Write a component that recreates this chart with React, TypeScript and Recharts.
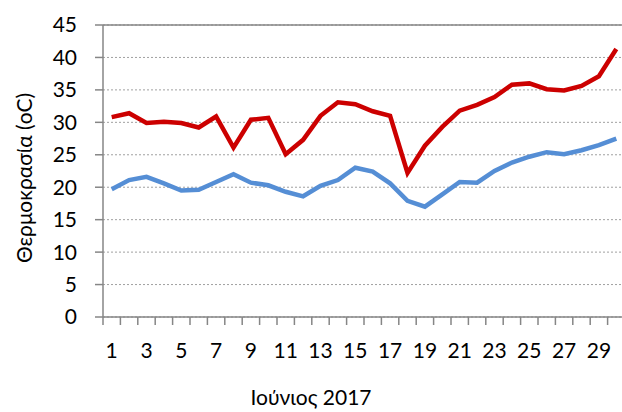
import {
  LineChart,
  Line,
  XAxis,
  YAxis,
  CartesianGrid,
  ReferenceLine,
  Label,
} from "recharts";

const days = [
  1, 2, 3, 4, 5, 6, 7, 8, 9, 10, 11, 12, 13, 14, 15, 16, 17, 18, 19, 20, 21,
  22, 23, 24, 25, 26, 27, 28, 29, 30,
];
const tMax = [
  30.8, 31.4, 29.9, 30.1, 29.9, 29.2, 30.9, 26.1, 30.4, 30.7, 25.1, 27.3, 31.0,
  33.1, 32.8, 31.7, 31.0, 22.2, 26.4, 29.3, 31.8, 32.7, 33.9, 35.8, 36.0, 35.1,
  34.9, 35.6, 37.1, 41.3,
];
const tMin = [
  19.7, 21.1, 21.6, 20.6, 19.5, 19.6, 20.8, 22.0, 20.7, 20.3, 19.3, 18.6, 20.2,
  21.1, 23.0, 22.4, 20.6, 17.9, 17.0, 18.9, 20.8, 20.7, 22.5, 23.8, 24.7, 25.4,
  25.1, 25.7, 26.5, 27.5,
];
const xLabels = [1, 3, 5, 7, 9, 11, 13, 15, 17, 19, 21, 23, 25, 27, 29];
const xBounds = [
  0.5, 1.5, 2.5, 3.5, 4.5, 5.5, 6.5, 7.5, 8.5, 9.5, 10.5, 11.5, 12.5, 13.5,
  14.5, 15.5, 16.5, 17.5, 18.5, 19.5, 20.5, 21.5, 22.5, 23.5, 24.5, 25.5, 26.5,
  27.5, 28.5, 29.5, 30.5,
];
const yTicks = [0, 5, 10, 15, 20, 25, 30, 35, 40, 45];

const data = days.map((d, i) => ({ day: d, max: tMax[i], min: tMin[i] }));

const font = "Lato, 'Open Sans', sans-serif";
const axisColor = "#868686";

// odd days get a label, category boundaries get a tick mark
function XTick(props: any) {
  const { x, y, payload } = props;
  const v = payload.value;
  if (xLabels.includes(v)) {
    return (
      <text
        x={x}
        y={y + 41}
        textAnchor="middle"
        fontSize={21}
        fontFamily={font}
        fill="#000"
      >
        {v}
      </text>
    );
  }
  return <line x1={x} x2={x} y1={y} y2={y + 8} stroke={axisColor} strokeWidth={1.5} />;
}

export default function App() {
  return (
    <div
      style={{
        position: "absolute",
        left: 0,
        top: 0,
        width: 622,
        height: 412,
        overflow: "hidden",
        background: "#fff",
      }}
    >
      <LineChart
        width={630}
        height={412}
        data={data}
        margin={{ top: 25, right: 5, left: 0, bottom: 0 }}
      >
        <CartesianGrid
          vertical={false}
          stroke="#a0a0a0"
          strokeDasharray="2 2"
        />
        <ReferenceLine y={45} stroke={axisColor} strokeWidth={1.5} />
        <XAxis
          dataKey="day"
          type="number"
          domain={[0.5, 30.5]}
          ticks={[...xBounds, ...xLabels]}
          interval={0}
          tick={<XTick />}
          tickLine={false}
          tickSize={0}
          tickMargin={0}
          axisLine={{ stroke: axisColor, strokeWidth: 1.5 }}
          height={95}
        >
          <Label
            content={() => (
              <text
                x={311}
                y={405}
                textAnchor="middle"
                fontSize={21}
                fontFamily={font}
                fill="#000"
              >
                Ιούνιος 2017
              </text>
            )}
          />
        </XAxis>
        <YAxis
          type="number"
          domain={[0, 45]}
          ticks={yTicks}
          interval={0}
          width={103}
          tickSize={8}
          tickMargin={18}
          tick={{ fontSize: 21, fontFamily: font, fill: "#000" }}
          tickLine={{ stroke: axisColor, strokeWidth: 1.5 }}
          axisLine={{ stroke: axisColor, strokeWidth: 1.5 }}
        >
          <Label
            content={() => (
              <text
                x={0}
                y={0}
                transform="translate(23,178) rotate(-90)"
                textAnchor="middle"
                dominantBaseline="central"
                fontSize={21}
                fontFamily={font}
                fill="#000"
              >
                Θερμοκρασία (oC)
              </text>
            )}
          />
        </YAxis>
        <Line
          dataKey="max"
          stroke="#cc0000"
          strokeWidth={4.5}
          dot={false}
          isAnimationActive={false}
        />
        <Line
          dataKey="min"
          stroke="#558ed5"
          strokeWidth={4.5}
          dot={false}
          isAnimationActive={false}
        />
      </LineChart>
    </div>
  );
}
